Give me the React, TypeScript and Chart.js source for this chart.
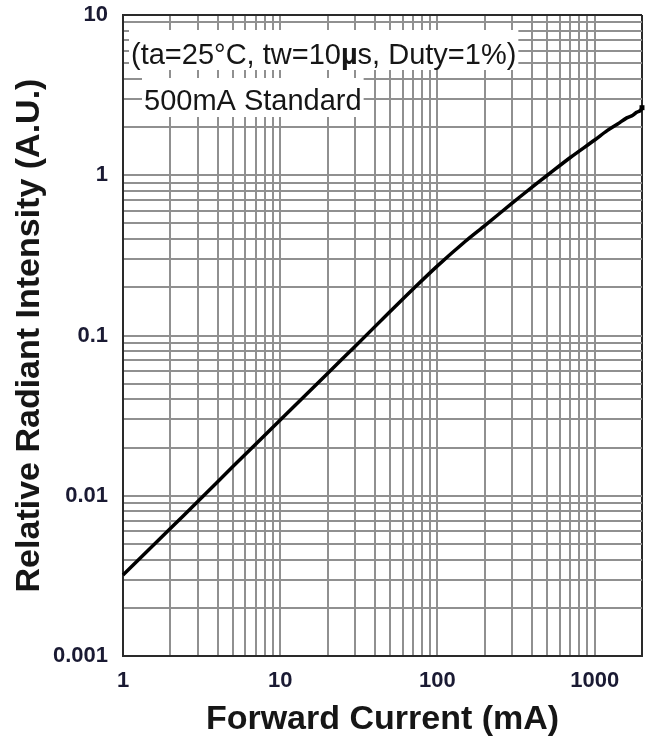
import React, { useEffect, useRef } from 'react';
import { Chart, registerables } from 'chart.js';

Chart.register(...registerables);

// ---- data ----
const CURRENT_MA = [1, 2, 3, 5, 7, 10, 20, 30, 50, 70, 100, 150, 200, 300, 400, 500, 700, 1000, 1200, 1400, 1600, 1750, 1850, 1950, 2000];
const INTENSITY = [0.0032, 0.00624, 0.00925, 0.0152, 0.021, 0.0297, 0.058, 0.0858, 0.141, 0.195, 0.272, 0.386, 0.485, 0.672, 0.843, 1.0, 1.29, 1.66, 1.9, 2.09, 2.28, 2.37, 2.47, 2.53, 2.64];

const X_GRID = [1, 2, 3, 4, 5, 6, 7, 8, 9, 10, 20, 30, 40, 50, 60, 70, 80, 90, 100, 200, 300, 400, 500, 600, 700, 800, 900, 1000, 2000];
const X_LABEL_VALUES = [1, 10, 100, 1000];
const X_LABEL_TEXT = ['1', '10', '100', '1000'];

const Y_GRID = [
  0.001, 0.002, 0.003, 0.004, 0.005, 0.006, 0.007, 0.008, 0.009,
  0.01, 0.02, 0.03, 0.04, 0.05, 0.06, 0.07, 0.08, 0.09,
  0.1, 0.2, 0.3, 0.4, 0.5, 0.6, 0.7, 0.8, 0.9,
  1, 2, 3, 4, 5, 6, 7, 8, 9, 10,
];
const Y_LABEL_VALUES = [0.001, 0.01, 0.1, 1, 10];
const Y_LABEL_TEXT = ['0.001', '0.01', '0.1', '1', '10'];

const X_TITLE = 'Forward Current (mA)';
const Y_TITLE = 'Relative Radiant Intensity (A.U.)';
const NOTE_CONDITIONS = ['(ta=25°C, tw=10', 'µ', 's, Duty=1%)'];
const NOTE_STANDARD = '500mA Standard';

const FONT = '"Liberation Sans", Arial, Helvetica, sans-serif';
const TEXT_COLOR = '#161616';
const LABEL_COLOR = '#1a1a33';
const GRID_COLOR = '#909090';
const FRAME_COLOR = '#2a2a2a';

function labelFor(value: number, vals: number[], texts: string[]): string {
  const i = vals.findIndex((v) => Math.abs(Math.log10(v) - Math.log10(value)) < 1e-6);
  return i >= 0 ? texts[i] : '';
}

const notesPlugin = {
  id: 'notes',
  afterDraw(chart: any) {
    const { ctx, chartArea } = chart;
    const left = chartArea.left;
    const top = chartArea.top;
    const reg = `29px ${FONT}`;
    const bold = `bold 29px ${FONT}`;
    ctx.save();
    ctx.textBaseline = 'alphabetic';
    ctx.textAlign = 'left';

    // line 1: conditions
    ctx.font = reg;
    const w0 = ctx.measureText(NOTE_CONDITIONS[0]).width;
    const w2 = ctx.measureText(NOTE_CONDITIONS[2]).width;
    ctx.font = bold;
    const w1 = ctx.measureText(NOTE_CONDITIONS[1]).width;
    const x1 = left + 8;
    const b1 = top + 49;
    ctx.fillStyle = '#ffffff';
    ctx.fillRect(x1 - 2, b1 - 34, w0 + w1 + w2 + 4, 40);
    ctx.fillStyle = TEXT_COLOR;
    ctx.font = reg;
    ctx.fillText(NOTE_CONDITIONS[0], x1, b1);
    ctx.font = bold;
    ctx.fillText(NOTE_CONDITIONS[1], x1 + w0, b1);
    ctx.font = reg;
    ctx.fillText(NOTE_CONDITIONS[2], x1 + w0 + w1, b1);

    // line 2: standard
    ctx.font = reg;
    const ws = ctx.measureText(NOTE_STANDARD).width;
    const x2 = left + 21;
    const b2 = top + 95;
    ctx.fillStyle = '#ffffff';
    ctx.fillRect(x2 - 2, b2 - 32, ws + 4, 39);
    ctx.fillStyle = TEXT_COLOR;
    ctx.fillText(NOTE_STANDARD, x2, b2);
    ctx.restore();
  },
};

export default function App() {
  const canvasRef = useRef<HTMLCanvasElement | null>(null);

  useEffect(() => {
    if (!canvasRef.current) return;
    const points = CURRENT_MA.map((x, i) => ({ x, y: INTENSITY[i] }));
    const radii = CURRENT_MA.map((_, i) => (i === CURRENT_MA.length - 1 ? 3.5 : 0));

    const chart = new Chart(canvasRef.current, {
      type: 'line',
      data: {
        datasets: [
          {
            data: points,
            borderColor: '#000000',
            backgroundColor: '#000000',
            borderWidth: 3.5,
            tension: 0.3,
            pointRadius: radii,
            pointHoverRadius: radii,
            pointStyle: 'rect',
            pointBorderWidth: 0,
            pointBackgroundColor: '#000000',
            clip: false as any,
          },
        ],
      },
      options: {
        animation: false,
        responsive: true,
        maintainAspectRatio: false,
        events: [],
        layout: { padding: { left: 0, top: 15, right: 4, bottom: 0 } },
        plugins: {
          legend: { display: false },
          tooltip: { enabled: false },
        },
        scales: {
          x: {
            type: 'logarithmic',
            min: 1,
            max: 2000,
            afterBuildTicks: (s: any) => {
              s.ticks = X_GRID.map((v) => ({ value: v }));
            },
            afterFit: (s: any) => {
              s.height = 86;
              s.paddingLeft = 0;
              s.paddingRight = 0;
              s.paddingTop = 0;
              s.paddingBottom = 0;
            },
            ticks: {
              autoSkip: false,
              maxRotation: 0,
              minRotation: 0,
              padding: 12,
              color: LABEL_COLOR,
              font: { family: FONT, size: 22, weight: 'bold' },
              callback: (v: any) => labelFor(Number(v), X_LABEL_VALUES, X_LABEL_TEXT),
            },
            grid: {
              drawTicks: false,
              lineWidth: 2,
              color: (c: any) => (c.tick && Math.abs(c.tick.value - 2000) < 1e-6 ? FRAME_COLOR : GRID_COLOR),
            },
            border: { display: true, color: FRAME_COLOR, width: 2 },
            title: {
              display: true,
              text: X_TITLE,
              color: TEXT_COLOR,
              font: { family: FONT, size: 34, weight: 'bold' },
              padding: { top: 0, bottom: 2 },
            },
          },
          y: {
            type: 'logarithmic',
            min: 0.001,
            max: 10,
            afterBuildTicks: (s: any) => {
              s.ticks = Y_GRID.map((v) => ({ value: v }));
            },
            afterFit: (s: any) => {
              s.width = 123;
              s.paddingLeft = 0;
              s.paddingRight = 0;
              s.paddingTop = 0;
              s.paddingBottom = 0;
            },
            ticks: {
              autoSkip: false,
              padding: 15,
              color: LABEL_COLOR,
              font: { family: FONT, size: 22, weight: 'bold' },
              callback: (v: any) => labelFor(Number(v), Y_LABEL_VALUES, Y_LABEL_TEXT),
            },
            grid: {
              drawTicks: false,
              lineWidth: 2,
              color: (c: any) => (c.tick && Math.abs(c.tick.value - 10) < 1e-6 ? FRAME_COLOR : GRID_COLOR),
            },
            border: { display: true, color: FRAME_COLOR, width: 2 },
            title: {
              display: true,
              text: Y_TITLE,
              color: TEXT_COLOR,
              font: { family: FONT, size: 34, weight: 'bold' },
              padding: { top: 9, bottom: 0 },
            },
          },
        },
      } as any,
      plugins: [notesPlugin],
    });

    return () => {
      chart.destroy();
    };
  }, []);

  return (
    <div
      style={{
        position: 'absolute',
        left: 0,
        top: 0,
        width: 646,
        height: 742,
        background: '#ffffff',
      }}
    >
      <canvas ref={canvasRef} />
    </div>
  );
}
